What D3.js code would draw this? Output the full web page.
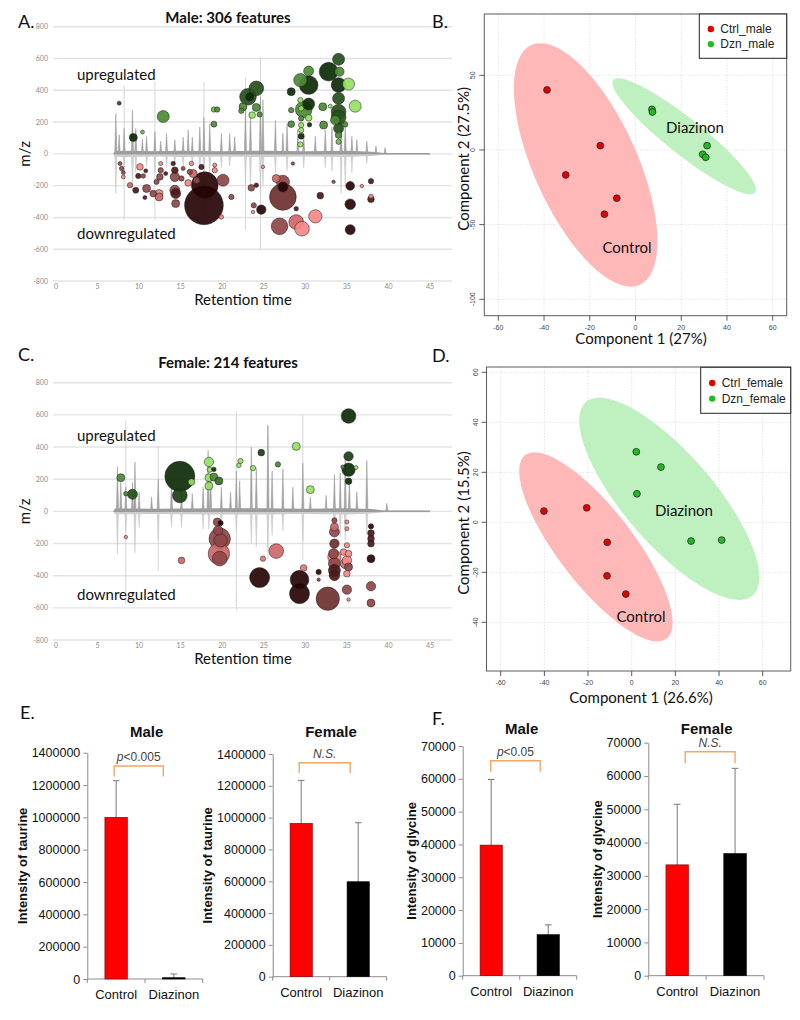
<!DOCTYPE html>
<html>
<head>
<meta charset="utf-8">
<script src="https://cdn.jsdelivr.net/npm/d3@7"></script>
<style>
  body { margin: 0; background: #fff; }
  svg { display: block; }
</style>
</head>
<body>
<script>
// ---------- data ----------
const mzTicks = [-800, -600, -400, -200, 0, 200, 400, 600, 800];
const rtTicks = [0, 5, 10, 15, 20, 25, 30, 35, 40, 45];

// bubbles: [retention time, m/z, abundance, fold-change level 1..5]
const maleUp = [
  [7.6,319,4,4],[9.3,103,16,5],[10.4,137,4,2],[12.9,235,36,3],[19.0,187,9,3],
  [19.0,279,7,2],[19.4,279,7,3],[22.5,296,16,3],[22.3,271,7,3],[23.1,359,69,4],
  [23.3,359,16,5],[24.1,412,54,4],[24.1,292,16,3],[23.6,244,11,1],[24.5,248,7,3],
  [28.3,391,16,5],[28.3,275,7,3],[28.3,187,11,3],[29.4,338,7,1],[29.5,286,7,1],
  [29.5,223,7,3],[29.5,181,7,1],[29.5,149,7,1],[29.5,111,9,5],[29.4,59,7,1],
  [29.4,464,44,3],[30.4,521,25,3],[30.4,433,87,5],[29.8,279,69,3],[30.4,313,36,5],
  [30.4,227,11,1],[30.5,183,5,5],[32.1,296,16,3],[32.2,181,16,3],[32.8,517,87,5],
  [33.0,300,4,1],[33.6,212,22,3],[34.0,595,36,4],[34.1,517,22,3],[34.0,433,54,5],
  [35.2,439,36,1],[34.0,349,36,4],[34.0,265,54,4],[34.0,229,54,4],[34.0,160,25,4],
  [34.0,118,11,3],[34.0,76,7,2],[34.8,185,7,3],[36.0,300,36,1]
];
const maleDown = [
  [7.7,-61,4,3],[7.9,-92,5,3],[8.1,-118,4,3],[8.1,-145,4,1],[8.9,-197,7,2],
  [9.6,-229,9,4],[10.1,-82,11,1],[9.9,-139,7,4],[10.5,-139,5,3],[10.8,-107,4,4],
  [10.9,-218,16,3],[10.7,-275,4,4],[11.7,-250,11,3],[12.1,-176,7,3],[12.4,-250,16,1],
  [12.4,-271,16,2],[12.5,-145,11,3],[12.6,-103,7,3],[12.6,-61,4,1],[13.2,-124,4,4],
  [14.1,-61,5,4],[14.3,-103,11,4],[14.3,-145,22,3],[14.3,-229,25,3],[14.4,-250,25,4],
  [14.4,-313,16,3],[15.1,-155,7,3],[15.3,-92,4,3],[16.3,-61,5,1],[16.1,-113,7,3],
  [15.9,-183,11,1],[16.5,-124,16,2],[16.9,-166,11,3],[17.9,-197,178,5],[17.8,-324,374,5],
  [17.5,-82,7,4],[19.1,-103,7,1],[19.1,-71,4,1],[20.1,-166,36,3],[21.1,-271,7,3],
  [19.9,-397,5,1],[23.5,-214,11,3],[24.1,-197,5,4],[23.8,-324,7,3],[23.7,-366,3,1],
  [24.7,-351,22,5],[24.9,-82,3,1],[26.5,-155,16,2],[27.3,-176,44,3],[27.3,-208,25,5],
  [27.3,-271,178,3.5],[26.9,-456,69,3],[28.5,-61,3,3],[28.9,-429,54,2],[29.6,-471,54,1],
  [28.9,-345,5,4],[31.2,-393,44,1],[31.8,-263,11,4],[33.4,-176,3,3],[35.4,-202,19,5],
  [35.4,-317,28,5],[35.4,-477,25,5],[36.8,-202,3,1],[37.9,-172,7,4],[37.9,-286,11,4],
  [37.9,-267,5,1]
];
const femaleUp = [
  [7.8,209,16,3],[8.4,110,5,3],[9.2,106,25,4],[14.9,218,225,5],[16.3,182,11,1],
  [14.9,99,54,4.5],[18.4,307,22,1],[18.5,259,7,1],[19.0,261,5,5],[18.4,209,16,1],
  [19.0,213,16,3],[19.6,189,16,3.5],[18.4,158,16,1],[22.2,313,7,1],[22.0,286,5,1],
  [23.7,269,7,1],[24.7,365,11,4.5],[26.7,292,7,3],[28.9,404,16,1],[30.6,135,16,1],
  [35.2,593,54,5],[35.2,342,22,4.5],[35.2,259,44,5],[35.2,187,11,5],[36.1,272,4,1],
  [34.5,276,4,3]
];
const femaleDown = [
  [8.4,-160,3,1],[15.1,-305,11,2],[19.4,-66,16,3],[19.8,-73,7,5],[19.5,-118,22,3],
  [19.7,-170,114,3],[19.8,-180,44,3],[19.6,-263,114,2],[19.7,-294,54,3],[24.9,-294,7,1.5],
  [24.5,-412,100,5],[26.5,-247,54,2],[29.8,-352,11,1.5],[29.3,-425,87,5],[29.3,-512,100,5],
  [31.6,-377,7,5],[31.6,-425,3,3],[32.7,-543,136,3.5],[33.5,-56,7,3],[33.5,-97,16,2],
  [33.5,-128,25,3],[33.5,-201,22,3.5],[33.5,-284,44,1],[33.5,-325,36,3],[33.5,-367,36,4],
  [33.5,-398,28,4],[33.4,-263,25,3],[34.6,-253,11,1],[35.0,-66,4,1],[35.0,-108,4,1],
  [35.0,-211,7,1],[35.2,-263,11,1],[35.0,-305,22,1],[35.2,-346,16,3],[35.0,-388,11,1],
  [35.0,-487,22,3],[35.2,-549,3,1],[34.8,-325,25,2],[37.9,-93,7,5],[37.9,-135,11,4],
  [37.9,-170,11,4],[37.9,-201,11,4],[37.9,-294,16,5],[37.9,-466,22,3],[37.9,-570,16,3]
];

// mirrored chromatogram: [rt, height]
const maleBaseline = [[6.9,0],[7.1,18],[9,20],[12,16],[15,20],[20,16],[25,20],[30,16],[35,20],[38,14],[39.5,6],[45,5]];
const maleTicUp = [
  [7.2,254],[7.6,120],[8.2,160],[9.2,275],[9.6,160],[10.4,90],[10.9,110],[11.9,140],[12.6,80],
  [13.3,128],[14.3,90],[15.3,105],[15.9,150],[16.4,105],[17.3,170],[17.8,230],[18.5,190],
  [19.9,128],[20.9,128],[21.5,107],[22.8,300],[23.4,260],[24.6,360],[24.9,340],[26.4,210],
  [27.3,130],[27.8,190],[29.1,150],[29.8,130],[31.2,110],[32.4,150],[33.2,170],[34.3,260],
  [34.8,190],[35.6,110],[36.2,90],[37.4,80],[38.5,50],[39.6,40]
];
const maleTicDown = [
  [7.2,250],[8.2,130],[9.2,230],[9.6,120],[10.9,80],[11.9,120],[13.3,90],[14.3,70],[15.3,80],
  [16.4,70],[17.3,100],[17.8,150],[18.5,120],[19.9,90],[20.9,80],[22.8,190],[23.4,220],
  [24.6,250],[24.9,200],[26.4,120],[27.8,110],[29.8,90],[32.4,90],[33.2,110],[34.3,250],
  [34.8,200],[35.6,120],[37.4,60]
];
const maleSpikes = [[8.2,432,-418],[11.9,453,-415],[17.8,450,-400],[22.8,480,-480],[24.6,610,-607]];

const femaleBaseline = [[6.9,0],[7.1,18],[9,18],[12,16],[15,18],[20,20],[25,20],[30,16],[35,20],[38,14],[39.5,6],[45,5]];
const femaleTicUp = [
  [7.4,276],[7.8,180],[8.4,150],[9.2,180],[9.5,307],[10.0,120],[11.5,90],[12.3,200],[13.9,190],
  [15.1,110],[16.4,110],[17.7,150],[18.3,380],[18.6,230],[19.9,150],[21.0,120],[21.7,250],
  [22.1,190],[23.5,400],[24.1,270],[25.5,535],[26.0,250],[27.3,265],[28.5,150],[29.7,300],
  [30.6,90],[32.5,100],[33.5,230],[34.2,240],[34.8,330],[35.3,200],[36.2,120],[37.4,317],[39.8,50]
];
const femaleTicDown = [
  [7.4,263],[8.4,120],[9.5,260],[10,100],[12.3,180],[13.9,100],[15.1,100],[17.7,110],[18.4,110],
  [19.9,100],[21.7,120],[23.5,200],[24.1,220],[25.5,230],[26,150],[27.3,120],[29.7,180],
  [33.5,150],[34.2,160],[34.8,180],[37.4,150]
];
const femaleSpikes = [[8.4,566,-574],[12.3,410,-370],[21.7,620,-616],[25.5,535,-300],[29.7,597,-300]];

// PCA scores
const pcaXTicks = [-60, -40, -20, 0, 20, 40, 60];
const maleCtrlPC1 = [-38.7, -30.5, -15.4, -8.2, -13.6];
const maleCtrlPC2 = [40.2, -16.7, 2.9, -32.3, -43.0];
const maleDznPC1 = [7.2, 7.4, 31.3, 29.4, 30.7];
const maleDznPC2 = [27.2, 25.4, 2.9, -2.9, -4.9];
const femaleCtrlPC1 = [-40.2, -20.6, -11.2, -11.3, -2.7];
const femaleCtrlPC2 = [4.5, 5.8, -8.0, -21.4, -28.7];
const femaleDznPC1 = [2.1, 13.4, 2.4, 27.2, 41.2];
const femaleDznPC2 = [28.2, 22.1, 11.4, -7.5, -7.1];
// confidence ellipses: [cx, cy, axis1 dx, axis1 dy, axis2 dx, axis2 dy]
const maleCtrlEllipse = [-21.8, -10, 23.7, -80.3, 20.6, 14.2];
const maleDznEllipse = [21.3, 9.2, 31.0, -37.7, 4.9, 9.4];
const femaleCtrlEllipse = [-16.4, -9.8, 32.4, -36.7, 13.6, 9.2];
const femaleDznEllipse = [17.2, 9.4, 38.2, -38.7, 15.6, 11.8];

// bar charts
const groups = ["Control", "Diazinon"];
const taurineMale = [1000000, 8000];
const taurineMaleErr = [227000, 23000];
const taurineFemale = [964000, 597000];
const taurineFemaleErr = [270000, 371000];
const glycineMale = [39800, 12500];
const glycineMaleErr = [20000, 3000];
const glycineFemale = [33300, 36700];
const glycineFemaleErr = [18200, 25600];

// ---------- drawing ----------
const calibri = "Lato, 'Open Sans', sans-serif";
const arial = "'Liberation Sans', Arial, sans-serif";

const svg = d3.select("body").append("svg")
  .attr("width", 800).attr("height", 1020);

function label(str, x, y, o = {}) {
  return svg.append("text")
    .attr("transform", "translate(" + x + "," + y + ")" + (o.rotate ? " rotate(" + o.rotate + ")" : ""))
    .attr("text-anchor", o.anchor || "start")
    .style("font-family", o.family || calibri)
    .style("font-size", (o.size || 15) + "px")
    .style("font-weight", o.weight || "normal")
    .style("font-style", o.italic ? "italic" : "normal")
    .attr("fill", o.fill || "#111")
    .text(str);
}

const upColor = d3.scaleLinear().domain([1, 2, 3, 4, 5])
  .range(["#95e262", "#6cb84c", "#4b8a33", "#25501b", "#0e2b08"]);
const downColor = d3.scaleLinear().domain([1, 2, 3, 4, 5])
  .range(["#f48888", "#cf6767", "#8f4747", "#4c1919", "#270404"]);

function bubblePanel(cfg) {
  const x = d3.scaleLinear().domain([0, 45]).range([56, 430]);
  const y = d3.scaleLinear().domain([-800, 800]).range([cfg.bottom, cfg.top]);
  const r = d3.scaleSqrt().domain([0, 400]).range([0, 20]);
  const g = svg.append("g");

  g.selectAll("line.grid").data(mzTicks).join("line").attr("class", "grid")
    .attr("x1", 53).attr("x2", 452)
    .attr("y1", d => y(d)).attr("y2", d => y(d))
    .attr("stroke", "#e3e3e3").attr("stroke-width", 1.4);

  g.selectAll("text.ytick").data(mzTicks).join("text").attr("class", "ytick")
    .attr("x", 48).attr("y", d => y(d) + 2.5).attr("text-anchor", "end")
    .style("font-family", calibri).style("font-size", "7px").attr("fill", "#8a8a8a")
    .text(d => d);

  g.selectAll("text.xtick").data(rtTicks).join("text").attr("class", "xtick")
    .attr("x", d => x(d)).attr("y", cfg.bottom + 7.5).attr("text-anchor", "middle")
    .style("font-family", calibri).style("font-size", "7px").attr("fill", "#8a8a8a")
    .text(d => d);

  // chromatogram
  g.selectAll("line.spike").data(cfg.spikes).join("line").attr("class", "spike")
    .attr("x1", d => x(d[0])).attr("x2", d => x(d[0]))
    .attr("y1", d => y(d[1])).attr("y2", d => y(d[2]))
    .attr("stroke", "#d6d6d6").attr("stroke-width", 1);

  g.append("path").datum(cfg.baseline)
    .attr("d", d3.area().x(d => x(d[0])).y0(y(0)).y1(d => y(-d[1])))
    .attr("fill", "#cdcdcd");
  g.append("path").datum(cfg.baseline)
    .attr("d", d3.area().x(d => x(d[0])).y0(y(0)).y1(d => y(d[1])))
    .attr("fill", "#9c9c9c");

  const peak = d3.line();
  g.selectAll("path.pdown").data(cfg.ticDown).join("path").attr("class", "pdown")
    .attr("d", d => peak([[x(d[0] - 0.13), y(0)], [x(d[0]), y(-d[1])], [x(d[0] + 0.13), y(0)]]))
    .attr("fill", "#d2d2d2").attr("stroke", "#c4c4c4").attr("stroke-width", 0.5);
  g.selectAll("path.pup").data(cfg.ticUp).join("path").attr("class", "pup")
    .attr("d", d => peak([[x(d[0] - 0.13), y(0)], [x(d[0]), y(d[1])], [x(d[0] + 0.13), y(0)]]))
    .attr("fill", "#a8a8a8").attr("stroke", "#939393").attr("stroke-width", 0.5);
  g.append("line").attr("x1", x(6.9)).attr("x2", x(45)).attr("y1", y(0)).attr("y2", y(0))
    .attr("stroke", "#8a8a8a").attr("stroke-width", 0.8);

  const bubbles = cfg.up.concat(cfg.down).sort((a, b) => b[2] - a[2]);
  g.selectAll("circle").data(bubbles).join("circle")
    .attr("cx", d => x(d[0])).attr("cy", d => y(d[1]))
    .attr("r", d => r(d[2]))
    .attr("fill", d => d[1] > 0 ? upColor(d[3]) : downColor(d[3]))
    .attr("fill-opacity", 0.92)
    .attr("stroke", "#1e1e1e").attr("stroke-opacity", 0.75).attr("stroke-width", 0.7);

  label(cfg.title, 228, cfg.titleY, { anchor: "middle", weight: "bold", size: 15 });
  label(cfg.letter, 18, cfg.letterY, { size: 18 });
  label("upregulated", 77, cfg.upY, { size: 15 });
  label("downregulated", 77, cfg.downY, { size: 15 });
  label("Retention time", 243, cfg.bottom + 24, { anchor: "middle", size: 15 });
  label("m/z", 30, y(0), { anchor: "middle", rotate: -90, size: 15 });
}

function pcaPanel(cfg) {
  const [bl, bt, br, bb] = cfg.box;
  const x = d3.scaleLinear().domain([-60, 60]).range(cfg.xRange);
  const y = d3.scaleLinear().domain(cfg.yDomain).range(cfg.yRange);
  const g = svg.append("g");

  g.selectAll("line.vg").data(pcaXTicks).join("line").attr("class", "vg")
    .attr("x1", d => x(d)).attr("x2", d => x(d)).attr("y1", bt).attr("y2", bb)
    .attr("stroke", "#e4e4e4").attr("stroke-dasharray", "1.5,1.5");
  g.selectAll("line.hg").data(cfg.yTicks).join("line").attr("class", "hg")
    .attr("x1", bl).attr("x2", br).attr("y1", d => y(d)).attr("y2", d => y(d))
    .attr("stroke", "#e4e4e4").attr("stroke-dasharray", "1.5,1.5");

  const ellipse = e => d3.range(73).map(i => {
    const t = i / 72 * 2 * Math.PI;
    return [x(e[0] + e[2] * Math.cos(t) + e[4] * Math.sin(t)),
            y(e[1] + e[3] * Math.cos(t) + e[5] * Math.sin(t))];
  });
  const closed = d3.line().curve(d3.curveLinearClosed);
  g.append("path").attr("d", closed(ellipse(cfg.ctrlEllipse))).attr("fill", "#ffb8b8");
  g.append("path").attr("d", closed(ellipse(cfg.dznEllipse))).attr("fill", "#bff0bf");

  g.append("rect").attr("x", bl).attr("y", bt).attr("width", br - bl).attr("height", bb - bt)
    .attr("fill", "none").attr("stroke", "#5a5a5a").attr("stroke-width", 1);

  g.selectAll("line.xt").data(pcaXTicks).join("line").attr("class", "xt")
    .attr("x1", d => x(d)).attr("x2", d => x(d)).attr("y1", bb).attr("y2", bb + 5)
    .attr("stroke", "#5a5a5a");
  g.selectAll("text.xt").data(pcaXTicks).join("text").attr("class", "xt")
    .attr("x", d => x(d)).attr("y", bb + 14).attr("text-anchor", "middle")
    .style("font-family", arial).style("font-size", "7px").attr("fill", "#444")
    .text(d => d);
  g.selectAll("line.yt").data(cfg.yTicks).join("line").attr("class", "yt")
    .attr("x1", bl - 5).attr("x2", bl).attr("y1", d => y(d)).attr("y2", d => y(d))
    .attr("stroke", "#5a5a5a");
  g.selectAll("text.yt").data(cfg.yTicks).join("text").attr("class", "yt")
    .attr("transform", d => "translate(" + (bl - 9) + "," + y(d) + ") rotate(-90)")
    .attr("text-anchor", "middle")
    .style("font-family", arial).style("font-size", "7px").attr("fill", "#444")
    .text(d => d);

  const pts = (px, py, fill) => g.append("g").selectAll("circle")
    .data(px.map((v, i) => [v, py[i]])).join("circle")
    .attr("cx", d => x(d[0])).attr("cy", d => y(d[1])).attr("r", 3.4)
    .attr("fill", fill).attr("stroke", "#2a2a2a").attr("stroke-width", 0.8);
  pts(cfg.ctrlX, cfg.ctrlY, "#e30000");
  pts(cfg.dznX, cfg.dznY, "#1fbd1f");

  // legend
  const [lx, ly, lw, lh] = cfg.legend;
  g.append("rect").attr("x", lx).attr("y", ly).attr("width", lw).attr("height", lh)
    .attr("fill", "#fff").attr("stroke", "#222").attr("stroke-width", 1);
  cfg.legendItems.forEach((name, i) => {
    const cy = ly + lh * (i === 0 ? 0.34 : 0.68);
    g.append("circle").attr("cx", lx + 11.5).attr("cy", cy).attr("r", 3.2)
      .attr("fill", i === 0 ? "#e30000" : "#1fbd1f");
    g.append("text").attr("x", lx + 21).attr("y", cy + 4.3)
      .style("font-family", arial).style("font-size", "12px").attr("fill", "#222")
      .text(name);
  });

  label("Diazinon", cfg.dznLabel[0], cfg.dznLabel[1], { anchor: "middle", size: 15 });
  label("Control", cfg.ctrlLabel[0], cfg.ctrlLabel[1], { anchor: "middle", size: 15 });
  label(cfg.xTitle, 641, cfg.xTitleY, { anchor: "middle", size: 15 });
  label(cfg.yTitle, 469, (bt + bb) / 2 + cfg.yTitleShift, { anchor: "middle", rotate: -90, size: 15 });
  label(cfg.letter, 432, cfg.letterY, { size: 18 });
}

function barPanel(cfg) {
  const x = d3.scaleBand().domain(groups).range([cfg.left, cfg.right]);
  const y = d3.scaleLinear().domain([0, cfg.max]).range([cfg.y0, cfg.yTop]);
  const g = svg.append("g");
  const bw = x.bandwidth() * 0.39;

  const ya = g.append("g").attr("transform", "translate(" + cfg.left + ",0)")
    .call(d3.axisLeft(y).tickValues(d3.range(0, cfg.max + 1, cfg.step))
      .tickSize(4).tickSizeOuter(0).tickPadding(3).tickFormat(d3.format("d")));
  ya.select(".domain").attr("stroke", "#8c8c8c");
  ya.selectAll(".tick line").attr("stroke", "#8c8c8c");
  ya.selectAll(".tick text").style("font-family", arial).style("font-size", "12.5px").attr("fill", "#111");

  g.append("line").attr("x1", cfg.left).attr("x2", cfg.right)
    .attr("y1", cfg.y0).attr("y2", cfg.y0).attr("stroke", "#8c8c8c");
  g.selectAll("line.xt").data(groups.map(d => x(d)).concat([cfg.right])).join("line")
    .attr("class", "xt")
    .attr("x1", d => d).attr("x2", d => d).attr("y1", cfg.y0).attr("y2", cfg.y0 + 4)
    .attr("stroke", "#8c8c8c");

  const rows = groups.map((name, i) => ({ name, v: cfg.values[i], e: cfg.errors[i] }));
  const cx = d => x(d.name) + x.bandwidth() / 2;

  g.selectAll("line.err").data(rows).join("line").attr("class", "err")
    .attr("x1", cx).attr("x2", cx)
    .attr("y1", d => y(d.v)).attr("y2", d => y(d.v + d.e))
    .attr("stroke", "#777").attr("stroke-width", 1);
  g.selectAll("line.cap").data(rows).join("line").attr("class", "cap")
    .attr("x1", d => cx(d) - 3.3).attr("x2", d => cx(d) + 3.3)
    .attr("y1", d => y(d.v + d.e)).attr("y2", d => y(d.v + d.e))
    .attr("stroke", "#777").attr("stroke-width", 1);

  g.selectAll("rect.bar").data(rows).join("rect").attr("class", "bar")
    .attr("x", d => cx(d) - bw / 2).attr("width", bw)
    .attr("y", d => y(d.v)).attr("height", d => y(0) - y(d.v))
    .attr("fill", (d, i) => i === 0 ? "#ff0000" : "#000")
    .attr("stroke", (d, i) => i === 0 ? "#7a0000" : "#000").attr("stroke-width", 0.6);

  // significance bracket
  const xa = cx(rows[0]) + cfg.bracket[0];
  const xb = cx(rows[1]) + cfg.bracket[1];
  const yTop = y(cfg.sigTop), yLeg = y(cfg.sigLeg);
  g.append("path")
    .attr("d", "M" + xa + "," + yLeg + "V" + yTop + "H" + xb + "V" + yLeg)
    .attr("fill", "none").attr("stroke", "#f2a766").attr("stroke-width", 1.4);
  const st = g.append("text").attr("x", (xa + xb) / 2).attr("y", yTop - 5)
    .attr("text-anchor", "middle")
    .style("font-family", arial).style("font-size", "12px").attr("fill", "#444");
  if (cfg.sig === "N.S.") {
    st.style("font-style", "italic").text("N.S.");
  } else {
    st.append("tspan").style("font-style", "italic").text("p");
    st.append("tspan").text(cfg.sig);
  }

  g.selectAll("text.cat").data(groups).join("text").attr("class", "cat")
    .attr("x", d => x(d) + x.bandwidth() / 2).attr("y", cfg.y0 + 20)
    .attr("text-anchor", "middle")
    .style("font-family", arial).style("font-size", "13px").attr("fill", "#111")
    .text(d => d);

  label(cfg.title, (cfg.left + cfg.right) / 2 + cfg.titleShift, cfg.titleY,
    { anchor: "middle", weight: "bold", size: 15, family: arial });
  label(cfg.yTitle, cfg.yTitleX, (cfg.y0 + cfg.yTop) / 2,
    { anchor: "middle", weight: "bold", size: 13, family: arial, rotate: -90 });
}

// A & C
bubblePanel({
  top: 26.7, bottom: 281, up: maleUp, down: maleDown,
  baseline: maleBaseline, ticUp: maleTicUp, ticDown: maleTicDown, spikes: maleSpikes,
  title: "Male: 306 features", titleY: 22.5, letter: "A.", letterY: 28,
  upY: 79.5, downY: 239
});
bubblePanel({
  top: 382.7, bottom: 640, up: femaleUp, down: femaleDown,
  baseline: femaleBaseline, ticUp: femaleTicUp, ticDown: femaleTicDown, spikes: femaleSpikes,
  title: "Female: 214 features", titleY: 368, letter: "C.", letterY: 361,
  upY: 440.7, downY: 600
});

// B & D
pcaPanel({
  box: [484.3, 14, 786.7, 315.7], xRange: [498.3, 772.7],
  yDomain: [-100, 50], yRange: [299.3, 75.3], yTicks: [50, 0, -50, -100],
  ctrlX: maleCtrlPC1, ctrlY: maleCtrlPC2, dznX: maleDznPC1, dznY: maleDznPC2,
  ctrlEllipse: maleCtrlEllipse, dznEllipse: maleDznEllipse,
  legend: [699.3, 14, 87.4, 44.3], legendItems: ["Ctrl_male", "Dzn_male"],
  dznLabel: [695, 132.5], ctrlLabel: [627, 252.5],
  xTitle: "Component 1 (27%)", xTitleY: 344, yTitle: "Component 2 (27.5%)", yTitleShift: -6,
  letter: "B.", letterY: 28
});
pcaPanel({
  box: [486.5, 367, 790.7, 671], xRange: [500.7, 762.7],
  yDomain: [-40, 60], yRange: [622.3, 372.3], yTicks: [60, 40, 20, 0, -20, -40],
  ctrlX: femaleCtrlPC1, ctrlY: femaleCtrlPC2, dznX: femaleDznPC1, dznY: femaleDznPC2,
  ctrlEllipse: femaleCtrlEllipse, dznEllipse: femaleDznEllipse,
  legend: [700.7, 367.3, 90, 46], legendItems: ["Ctrl_female", "Dzn_female"],
  dznLabel: [684, 515.5], ctrlLabel: [641, 621.5],
  xTitle: "Component 1 (26.6%)", xTitleY: 702.5, yTitle: "Component 2 (15.5%)", yTitleShift: 4,
  letter: "D.", letterY: 362
});

// E & F
label("E.", 20, 719, { size: 18 });
label("F.", 432, 725, { size: 18 });
barPanel({
  left: 87.3, right: 202.7, y0: 979, yTop: 752.7, max: 1400000, step: 200000,
  values: taurineMale, errors: taurineMaleErr,
  bracket: [-2, -10.6], sigTop: 1318000, sigLeg: 1252000, sig: "<0.005",
  title: "Male", titleShift: 1.7, titleY: 736.7, yTitle: "Intensity of taurine", yTitleX: 26.5
});
barPanel({
  left: 272.7, right: 386.7, y0: 976.7, yTop: 754, max: 1400000, step: 200000,
  values: taurineFemale, errors: taurineFemaleErr,
  bracket: [-2, -8], sigTop: 1345000, sigLeg: 1280000, sig: "N.S.",
  title: "Female", titleShift: 1.3, titleY: 736.7, yTitle: "Intensity of taurine", yTitleX: 211.5
});
barPanel({
  left: 462.7, right: 576.7, y0: 975.7, yTop: 746, max: 70000, step: 10000,
  values: glycineMale, errors: glycineMaleErr,
  bracket: [-0.5, -8], sigTop: 65500, sigLeg: 62170, sig: "<0.05",
  title: "Male", titleShift: 2, titleY: 734, yTitle: "Intensity of glycine", yTitleX: 416
});
barPanel({
  left: 648.3, right: 764, y0: 975.7, yTop: 742.7, max: 70000, step: 10000,
  values: glycineFemale, errors: glycineFemaleErr,
  bracket: [8, 0], sigTop: 67300, sigLeg: 63800, sig: "N.S.",
  title: "Female", titleShift: 0.5, titleY: 734, yTitle: "Intensity of glycine", yTitleX: 602
});
</script>
</body>
</html>
